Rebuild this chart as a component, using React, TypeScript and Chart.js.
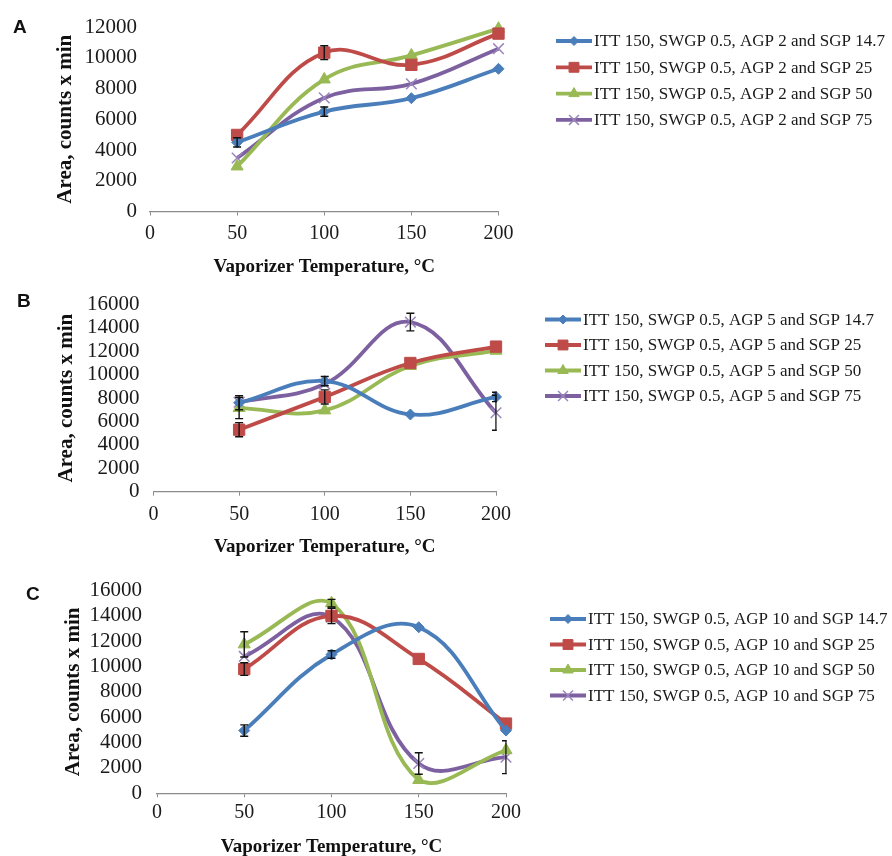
import React, { useEffect, useRef } from "react";
import { Chart, registerables } from "chart.js";
import { drawPoint } from "chart.js/helpers";

Chart.register(...registerables);

// ---------- data ----------
const temps = [50, 100, 150, 200];
const xAxisTitle = "Vaporizer Temperature, \u00B0C";
const yAxisTitle = "Area, counts x min";

const legendA = [
  "ITT 150, SWGP 0.5, AGP 2 and SGP 14.7",
  "ITT 150, SWGP 0.5, AGP 2 and SGP 25",
  "ITT 150, SWGP 0.5, AGP 2 and SGP 50",
  "ITT 150, SWGP 0.5, AGP 2 and SGP 75",
];
const legendB = [
  "ITT 150, SWGP 0.5, AGP 5 and SGP 14.7",
  "ITT 150, SWGP 0.5, AGP 5 and SGP 25",
  "ITT 150, SWGP 0.5, AGP 5 and SGP 50",
  "ITT 150, SWGP 0.5, AGP 5 and SGP 75",
];
const legendC = [
  "ITT 150, SWGP 0.5, AGP 10 and SGP 14.7",
  "ITT 150, SWGP 0.5, AGP 10 and SGP 25",
  "ITT 150, SWGP 0.5, AGP 10 and SGP 50",
  "ITT 150, SWGP 0.5, AGP 10 and SGP 75",
];

// Panel A (AGP 2)
const aSgp147 = [4500, 6500, 7370, 9280];
const aSgp25 = [4980, 10330, 9540, 11570];
const aSgp50 = [2930, 8590, 10150, 11890];
const aSgp75 = [3480, 7390, 8300, 10590];
const aErr147 = [300, 300, 0, 0];
const aErr25 = [0, 450, 0, 0];
const aErr50 = [0, 0, 0, 0];
const aErr75 = [0, 0, 0, 0];

// Panel B (AGP 5)
const bSgp147 = [7600, 9450, 6600, 8100];
const bSgp25 = [5300, 8100, 11000, 12400];
const bSgp50 = [7150, 6950, 10750, 12050];
const bSgp75 = [7650, 9200, 14500, 6750];
const bErr147 = [600, 400, 0, 400];
const bErr25 = [600, 600, 0, 0];
const bErr50 = [900, 0, 0, 0];
const bErr75 = [0, 0, 750, 1500];

// Panel C (AGP 10)
const cSgp147 = [4950, 10950, 13100, 4950];
const cSgp25 = [9800, 14000, 10600, 5500];
const cSgp50 = [11750, 15000, 1050, 3400];
const cSgp75 = [10800, 13900, 2350, 2850];
const cErr147 = [450, 300, 0, 0];
const cErr25 = [500, 600, 0, 0];
const cErr50 = [1000, 300, 0, 0];
const cErr75 = [0, 0, 850, 1300];

// ---------- styles ----------
const W = 892;
const SERIF = "'Liberation Serif', 'Times New Roman', serif";
const SANS = "'Liberation Sans', Arial, sans-serif";
const colors = ["#4A7EBB", "#BE4B48", "#98B954", "#7D60A0"];
const pointStyles = ["rectRot", "rect", "triangle", "crossRot"];
const pointRadii = [5.5, 8, 7, 7.5];
const legendRadii = [4.5, 7, 6, 7];

type PanelCfg = {
  letter: string;
  top: number;
  height: number;
  area: { left: number; right: number; top: number; bottom: number };
  yMax: number;
  series: number[][];
  errors: number[][];
  legend: string[];
  legendX: number;
  legendY: number;
  legendGap: number;
  letterX: number;
  letterY: number;
  yTickPad: number;
  xTickPad: number;
  yTitlePad: number;
  xTitlePad: number;
};

const panels: PanelCfg[] = [
  {
    letter: "A",
    top: 0,
    height: 280,
    area: { left: 150, right: 498.5, top: 27, bottom: 211.5 },
    yMax: 12000,
    series: [aSgp147, aSgp25, aSgp50, aSgp75],
    errors: [aErr147, aErr25, aErr50, aErr75],
    legend: legendA,
    legendX: 556,
    legendY: 41,
    legendGap: 26.3,
    letterX: 13,
    letterY: 33,
    yTickPad: 13,
    xTickPad: 6,
    yTitlePad: 53,
    xTitlePad: 2,
  },
  {
    letter: "B",
    top: 280,
    height: 285,
    area: { left: 153.5, right: 496, top: 16.7, bottom: 211.7 },
    yMax: 16000,
    series: [bSgp147, bSgp25, bSgp50, bSgp75],
    errors: [bErr147, bErr25, bErr50, bErr75],
    legend: legendB,
    legendX: 545,
    legendY: 39.5,
    legendGap: 25.5,
    letterX: 17,
    letterY: 26.7,
    yTickPad: 14,
    xTickPad: 7,
    yTitlePad: 54,
    xTitlePad: 7,
  },
  {
    letter: "C",
    top: 565,
    height: 291,
    area: { left: 157, right: 506, top: 21, bottom: 228.3 },
    yMax: 16000,
    series: [cSgp147, cSgp25, cSgp50, cSgp75],
    errors: [cErr147, cErr25, cErr50, cErr75],
    legend: legendC,
    legendX: 550,
    legendY: 54,
    legendGap: 25.5,
    letterX: 26,
    letterY: 35,
    yTickPad: 15,
    xTickPad: 3,
    yTitlePad: 61,
    xTitlePad: -2,
  },
];

function Panel({ cfg }: { cfg: PanelCfg }) {
  const ref = useRef<HTMLCanvasElement>(null);
  useEffect(() => {
    const canvas = ref.current!;
    const decor = {
      id: "decor" + cfg.letter,
      afterDatasetsDraw(chart: any) {
        const { ctx, chartArea, scales } = chart;
        const x = scales.x;
        const y = scales.y;
        ctx.save();
        ctx.beginPath();
        ctx.rect(chartArea.left - 10, 0, chartArea.right - chartArea.left + 10.8, chart.height);
        ctx.clip();
        ctx.strokeStyle = "#111";
        ctx.lineWidth = 1.4;
        cfg.errors.forEach((errs, i) => {
          errs.forEach((e, j) => {
            if (!e) return;
            const v = cfg.series[i][j];
            const px = x.getPixelForValue(temps[j]);
            const t = y.getPixelForValue(v + e);
            const b = y.getPixelForValue(v - e);
            ctx.beginPath();
            ctx.moveTo(px, t);
            ctx.lineTo(px, b);
            ctx.moveTo(px - 4, t);
            ctx.lineTo(px + 4, t);
            ctx.moveTo(px - 4, b);
            ctx.lineTo(px + 4, b);
            ctx.stroke();
          });
        });
        ctx.restore();
      },
      afterDraw(chart: any) {
        const { ctx } = chart;
        ctx.save();
        // panel letter
        ctx.fillStyle = "#111";
        ctx.font = `bold 19px ${SANS}`;
        ctx.textAlign = "left";
        ctx.textBaseline = "alphabetic";
        ctx.fillText(cfg.letter, cfg.letterX, cfg.letterY);
        // legend
        cfg.legend.forEach((label, i) => {
          const ly = cfg.legendY + i * cfg.legendGap;
          const lx = cfg.legendX;
          ctx.strokeStyle = colors[i];
          ctx.lineWidth = 3.8;
          ctx.beginPath();
          ctx.moveTo(lx, ly);
          ctx.lineTo(lx + 36, ly);
          ctx.stroke();
          ctx.fillStyle = colors[i];
          ctx.strokeStyle = i === 3 ? "#9A86BD" : colors[i];
          ctx.lineWidth = i === 3 ? 1.5 : 1;
          drawPoint(ctx, { pointStyle: pointStyles[i] as any, radius: legendRadii[i], rotation: 0, borderWidth: ctx.lineWidth }, lx + 18, ly);
          ctx.fillStyle = "#1a1a1a";
          ctx.font = `17px ${SERIF}`;
          ctx.textBaseline = "middle";
          ctx.fillText(label, lx + 38, ly + 1);
        });
        ctx.restore();
      },
    };

    const chart = new Chart(canvas, {
      type: "line",
      data: {
        datasets: cfg.series.map((s, i) => ({
          label: cfg.legend[i],
          data: temps.map((t, j) => ({ x: t, y: s[j] })),
          borderColor: colors[i],
          backgroundColor: colors[i],
          borderWidth: 3.8,
          tension: 0.4,
          fill: false,
          clip: false as any,
          pointStyle: pointStyles[i] as any,
          pointRadius: pointRadii[i],
          pointBackgroundColor: colors[i],
          pointBorderColor: i === 3 ? "#9A86BD" : colors[i],
          pointBorderWidth: i === 3 ? 1.5 : 1,
        })),
      },
      options: {
        responsive: false,
        animation: false,
        devicePixelRatio: 1,
        events: [],
        layout: {
          padding: { left: 0, top: cfg.area.top, right: W - cfg.area.right, bottom: 0 },
        },
        plugins: {
          legend: { display: false },
          tooltip: { enabled: false },
          title: { display: false },
        },
        scales: {
          x: {
            type: "linear",
            min: 0,
            max: 200,
            ticks: {
              stepSize: 50,
              color: "#1a1a1a",
              font: { family: SERIF, size: 20 },
              padding: cfg.xTickPad,
              maxRotation: 0,
              autoSkip: false,
              callback: (v: any) => String(v),
            },
            grid: { display: true, drawOnChartArea: false, drawTicks: true, tickLength: 4, color: "#8c8c8c", lineWidth: 1 },
            border: { display: true, color: "#8c8c8c", width: 1.2 },
            title: {
              display: true,
              text: xAxisTitle,
              color: "#111",
              font: { family: SERIF, size: 19, weight: "bold" },
              padding: { top: 0, bottom: cfg.xTitlePad },
            },
            afterFit: (s: any) => {
              s.height = cfg.height - cfg.area.bottom;
            },
          },
          y: {
            type: "linear",
            min: 0,
            max: cfg.yMax,
            ticks: {
              stepSize: 2000,
              color: "#1a1a1a",
              font: { family: SERIF, size: 21, lineHeight: 1 },
              padding: cfg.yTickPad,
              autoSkip: false,
              callback: (v: any) => String(v),
            },
            grid: { display: false, drawTicks: false },
            border: { display: false },
            title: {
              display: true,
              text: yAxisTitle,
              color: "#111",
              font: { family: SERIF, size: 21, weight: "bold" },
              padding: { top: cfg.yTitlePad, bottom: 0 },
            },
            afterFit: (s: any) => {
              s.width = cfg.area.left;
            },
          },
        },
      } as any,
      plugins: [decor],
    });
    return () => chart.destroy();
  }, []);
  return (
    <canvas
      ref={ref}
      width={W}
      height={cfg.height}
      style={{ position: "absolute", left: 0, top: cfg.top, width: W, height: cfg.height }}
    />
  );
}

export default function App() {
  return (
    <div
      style={{
        position: "absolute",
        left: 0,
        top: 0,
        width: W,
        height: 856,
        overflow: "hidden",
        background: "#fff",
      }}
    >
      {panels.map((p) => (
        <Panel key={p.letter} cfg={p} />
      ))}
    </div>
  );
}
